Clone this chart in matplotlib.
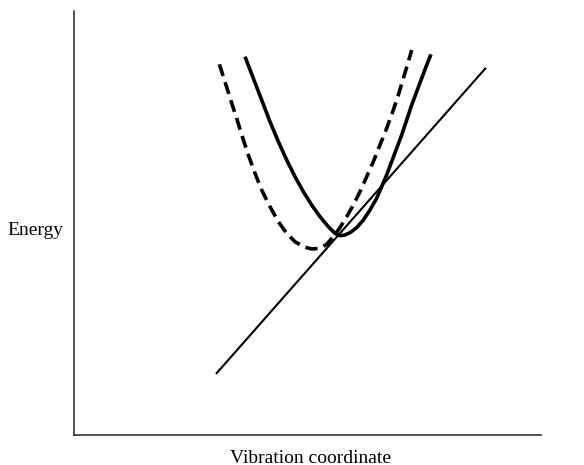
import matplotlib
matplotlib.use("Agg")
import matplotlib.pyplot as plt

# Straight line (reference state)
line_x = [30.4, 88.2]
line_y = [14.4, 86.6]

# Dashed potential curve
dashed_x = [31.12, 32.33, 33.55, 34.83, 36.05, 37.33, 38.76, 40.19, 41.97, 43.75,
            45.54, 47.32, 49.11, 50.89, 52.68, 54.10, 55.53, 56.96, 58.39, 59.81,
            61.24, 62.67, 64.10, 65.52, 66.95, 68.38, 69.45, 70.52, 71.59, 72.31]
dashed_y = [87.42, 83.33, 79.01, 74.69, 70.36, 66.04, 61.71, 57.78, 53.85, 50.31,
            47.56, 45.60, 44.42, 43.87, 44.02, 44.97, 46.78, 48.90, 51.49, 54.25,
            57.39, 60.93, 64.47, 68.40, 72.33, 76.65, 80.19, 84.12, 88.05, 90.80]

# Solid potential curve
solid_x = [36.62, 38.40, 40.19, 41.97, 43.76, 45.54, 47.32, 49.11, 50.89, 52.68,
           54.46, 55.89, 56.96, 58.03, 59.10, 60.53, 61.96, 63.38, 64.81, 65.88,
           66.95, 68.02, 69.09, 70.17, 71.24, 72.31, 73.38, 74.45, 75.52, 76.44]
solid_y = [89.23, 84.12, 79.01, 73.90, 69.18, 64.86, 60.93, 57.39, 54.25, 51.49,
           49.13, 47.56, 47.01, 47.17, 47.72, 48.90, 50.71, 53.07, 55.82, 58.57,
           61.32, 64.47, 67.61, 70.76, 74.29, 77.83, 80.98, 84.12, 87.26, 89.78]

xlabel = "Vibration coordinate"
ylabel = "Energy"

W, H = 584, 465
fig = plt.figure(figsize=(W / 100, H / 100), dpi=100)
ax = fig.add_axes([74 / W, (H - 435) / H, 467 / W, 424 / H])
ax.set_xlim(0, 100)
ax.set_ylim(0, 100)
for s in ("top", "right"):
    ax.spines[s].set_visible(False)
for s in ("left", "bottom"):
    ax.spines[s].set_linewidth(1.1)
    ax.spines[s].set_color("#222222")
ax.set_xticks([])
ax.set_yticks([])

ax.plot(line_x, line_y, color="black", lw=1.5, solid_capstyle="butt")
ax.plot(solid_x, solid_y, color="black", lw=2.6, solid_joinstyle="round",
        solid_capstyle="butt")
ax.plot(dashed_x, dashed_y, color="black", lw=2.6, linestyle=(0, (3.4, 1.8)),
        dash_joinstyle="round", dash_capstyle="butt")

font = dict(family="Liberation Serif", size=14, color="black")
fig.text(35 / W, 1 - 230 / H, ylabel, ha="center", va="center", **font)
fig.text(310 / W, 1 - 458 / H, xlabel, ha="center", va="center", **font)

fig.savefig("out.png", dpi=100, facecolor="white")
